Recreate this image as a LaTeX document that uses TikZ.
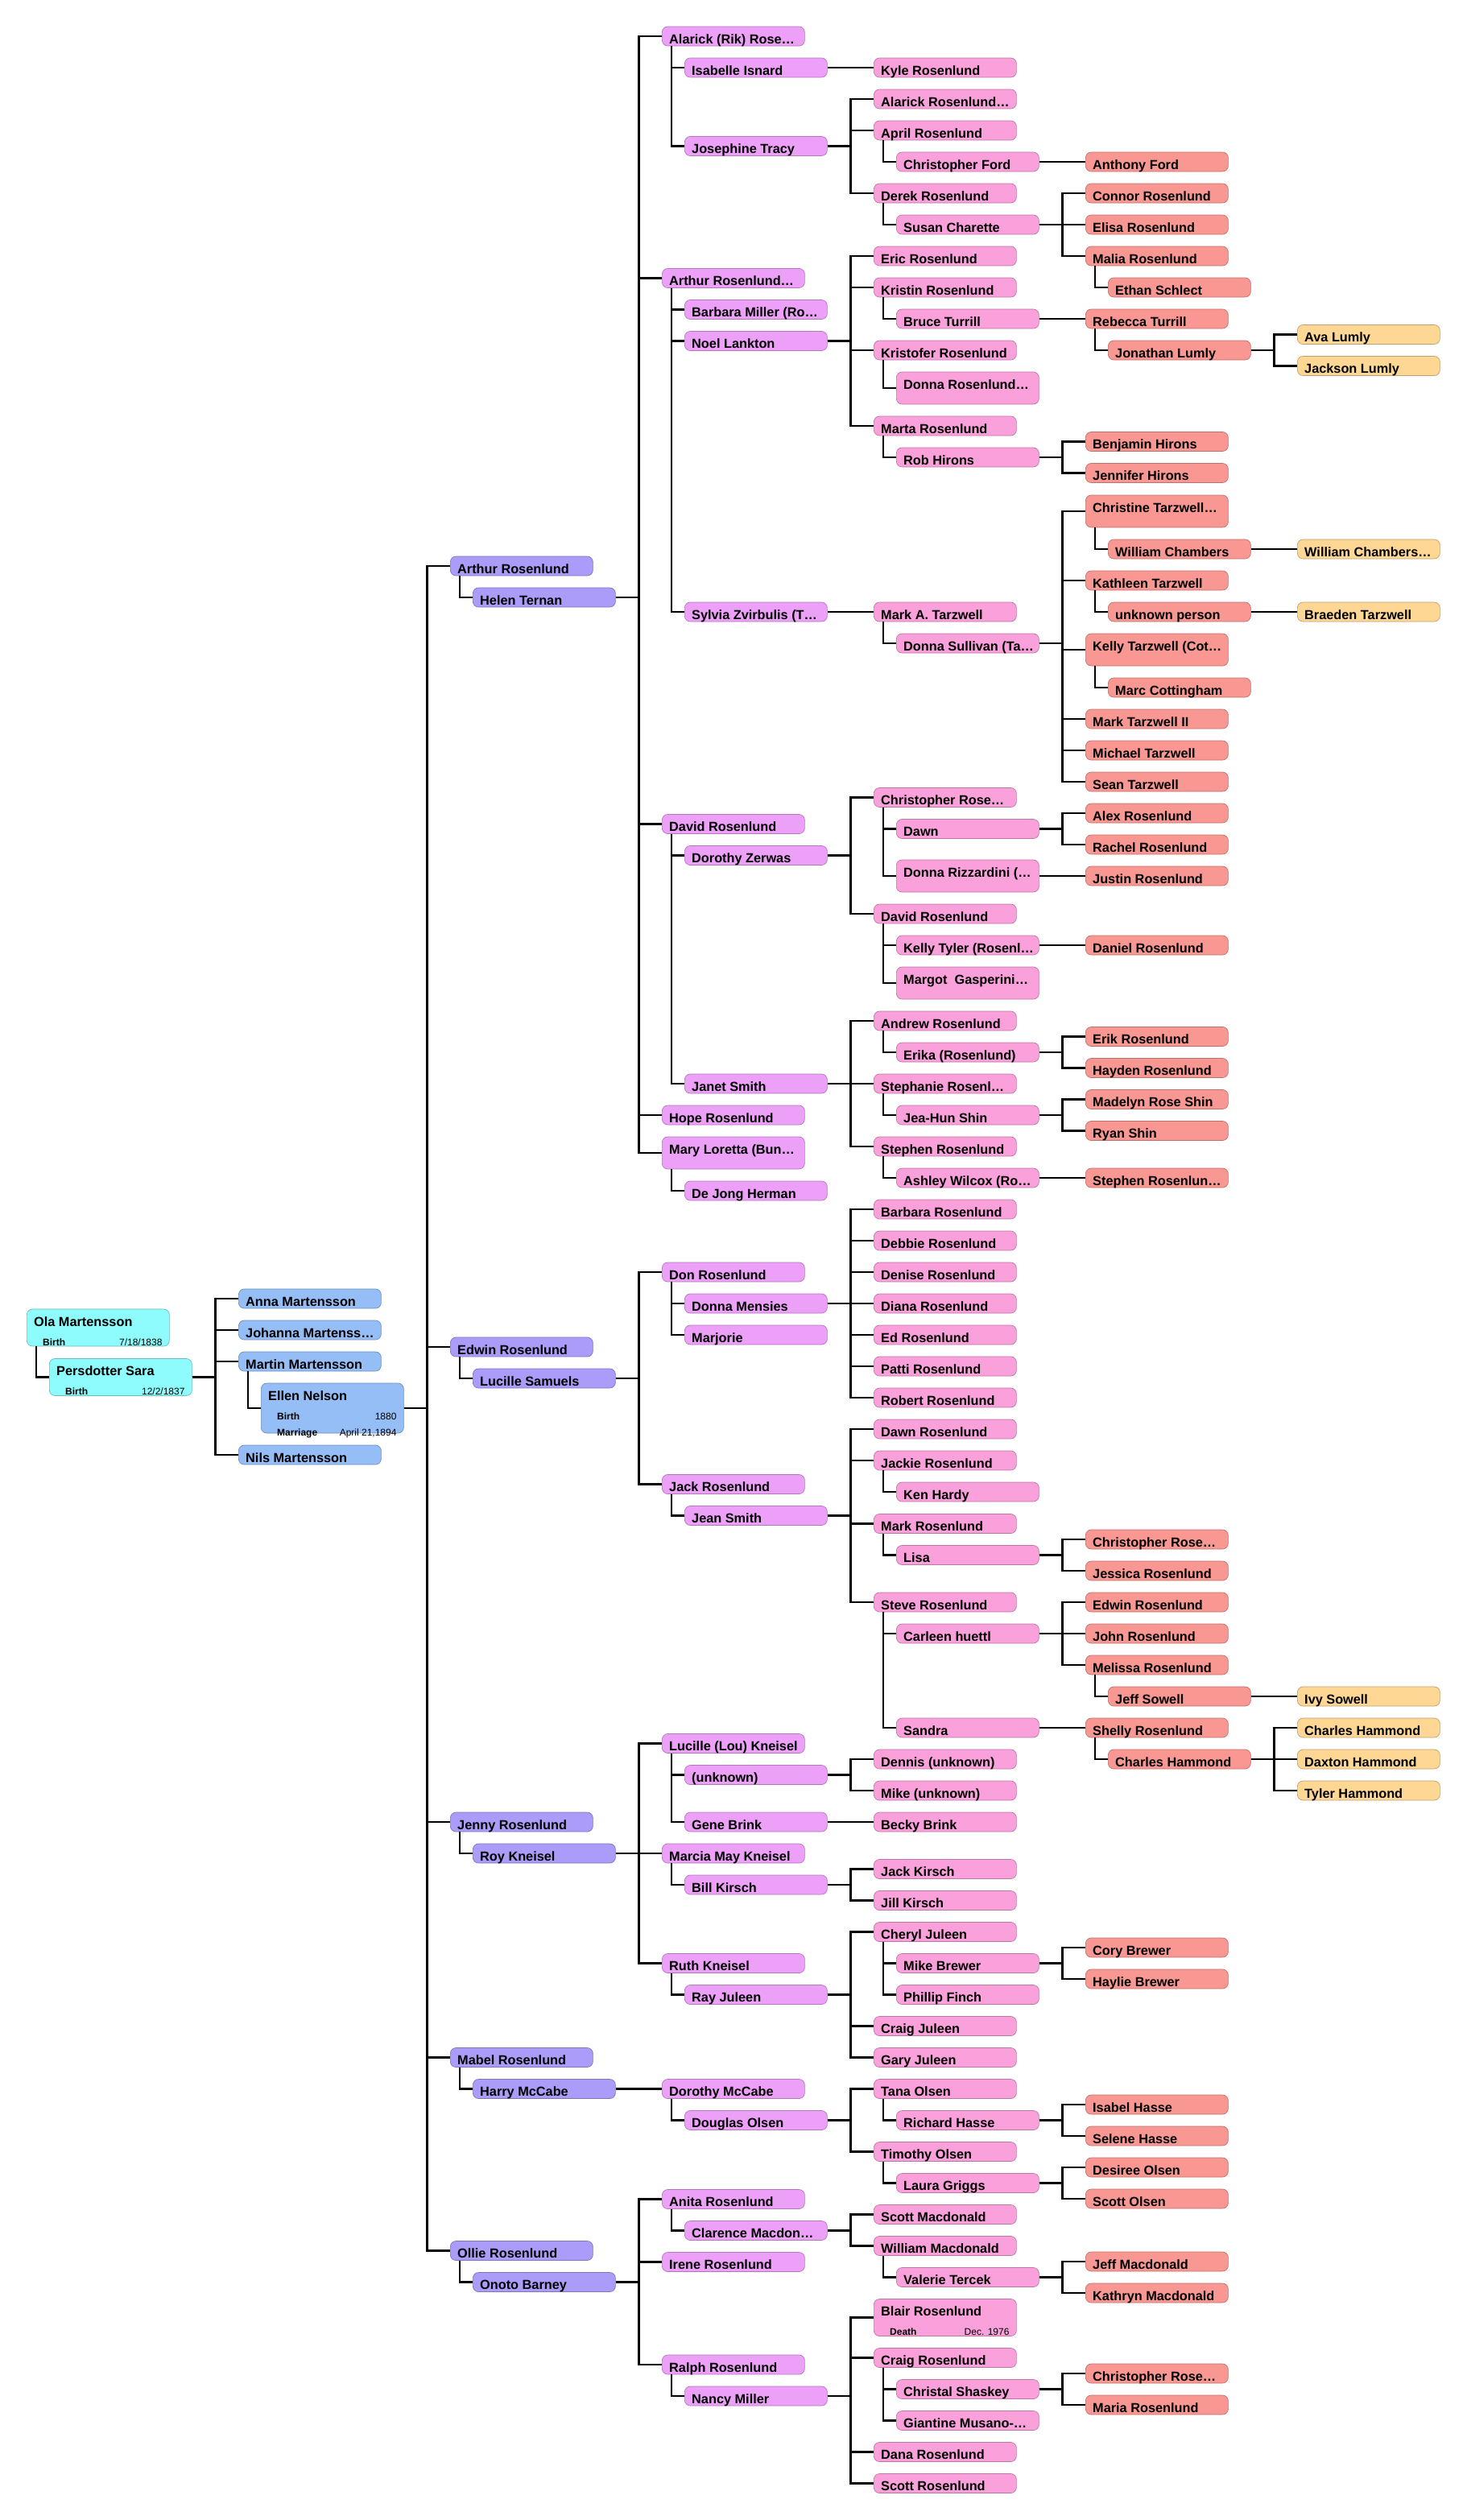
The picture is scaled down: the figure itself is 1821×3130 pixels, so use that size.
\documentclass[tikz,border=0pt]{standalone}
\usepackage{fontspec}
\setmainfont{Liberation Sans}
\definecolor{lv0}{HTML}{8EFBFD}
\definecolor{lv1}{HTML}{95BDF6}
\definecolor{lv2}{HTML}{AA9CF8}
\definecolor{lv3}{HTML}{EDA0F8}
\definecolor{lv4}{HTML}{FAA0DB}
\definecolor{lv5}{HTML}{F99892}
\definecolor{lv6}{HTML}{FED795}
\tikzset{
  box/.style={rounded corners=7pt,inner sep=0pt,anchor=west,minimum width=177pt,minimum height=24pt,line width=0.7pt},
  tall/.style={minimum height=40pt},
  event/.style={minimum height=46pt},
  bigevent/.style={minimum height=62pt},
  nm/.style={anchor=base west,inner sep=0pt,font=\bfseries\fontsize{16.3}{18}\selectfont},
  evl/.style={anchor=base west,inner sep=0pt,font=\bfseries\fontsize{12}{14}\selectfont},
  evd/.style={anchor=base east,inner sep=0pt,font=\fontsize{12}{14}\selectfont},
  link/.style={line width=2.6pt}
}
\newcommand\pb[5][]{\node[box,fill=lv#2,draw=lv#2!75!black,#1] (#3) at ({33+263*#2},#4) {} ; \node[nm] at ([shift={(9,21.5)}]#3.north west) {#5} ;}
\newcommand\ps[5][]{\node[box,fill=lv#2,draw=lv#2!75!black,#1] (#3) at ({61+263*#2},#4) {} ; \node[nm] at ([shift={(9,21.5)}]#3.north west) {#5} ;}
\newcommand\ev[4]{\node[evl] at ([shift={(20,#2)}]#1.north west) {#3} ; \node[evd] at ([shift={(-9,#2)}]#1.north east) {#4} ;}
\newcommand\wed[2]{\draw[link] ([xshift=12pt]#1.south west) |- (#2.west) ;}
\newcommand\kids[2]{\foreach \k in {#2} \draw[link] (#1.east) -- ++(28.5,0) |- (\k.west) ;}
\begin{document}
\begin{tikzpicture}[x=1pt,y=-1pt,line join=miter]
	\fill[white] (0,0) rectangle (1821,3130) ;
	\useasboundingbox (0,0) rectangle (1821,3130) ;
	\pb[event]{0}{ola}{1649}{Ola Martensson} \ev{ola}{46}{Birth}{7/18/1838}
	\ps[event]{0}{sara}{1710.5}{Persdotter Sara} \ev{sara}{45.5}{Birth}{12/2/1837}
	\pb{1}{anna}{1613}{Anna Martensson}
	\pb{1}{joha}{1652}{Johanna Martenss…}
	\pb{1}{mart}{1691}{Martin Martensson}
	\ps[bigevent]{1}{elle}{1749}{Ellen Nelson} \ev{elle}{46}{Birth}{1880} \ev{elle}{66}{Marriage}{April 21,1894}
	\pb{1}{nils}{1807}{Nils Martensson}
	\pb{2}{arth}{703}{Arthur Rosenlund}
	\ps{2}{hele}{742}{Helen Ternan}
	\pb{2}{edwi}{1673}{Edwin Rosenlund}
	\ps{2}{luci}{1712}{Lucille Samuels}
	\pb{2}{jenr}{2263}{Jenny Rosenlund}
	\ps{2}{roy}{2302}{Roy Kneisel}
	\pb{2}{mabe}{2555.5}{Mabel Rosenlund}
	\ps{2}{harr}{2594.5}{Harry McCabe}
	\pb{2}{olli}{2795.5}{Ollie Rosenlund}
	\ps{2}{onot}{2834.5}{Onoto Barney}
	\pb{3}{rik}{45}{Alarick (Rik) Rose…}
	\ps{3}{isab}{84}{Isabelle Isnard}
	\ps{3}{jose}{181.5}{Josephine Tracy}
	\pb{3}{art3}{345.5}{Arthur Rosenlund…}
	\ps{3}{barb}{384.5}{Barbara Miller (Ro…}
	\ps{3}{noel}{423.5}{Noel Lankton}
	\ps{3}{sylv}{760}{Sylvia Zvirbulis (T…}
	\pb{3}{dav3}{1023.5}{David Rosenlund}
	\ps{3}{doro}{1062.5}{Dorothy Zerwas}
	\ps{3}{jane}{1346}{Janet Smith}
	\pb{3}{hope}{1385}{Hope Rosenlund}
	\pb[tall]{3}{mary}{1432}{Mary Loretta (Bun…}
	\ps{3}{dejo}{1479}{De Jong Herman}
	\pb{3}{don}{1580}{Don Rosenlund}
	\ps{3}{dmen}{1619}{Donna Mensies}
	\ps{3}{marj}{1658}{Marjorie}
	\pb{3}{jac3}{1843.5}{Jack Rosenlund}
	\ps{3}{jean}{1882.5}{Jean Smith}
	\pb{3}{lou}{2165.5}{Lucille (Lou) Kneisel}
	\ps{3}{unk3}{2204.5}{(unknown)}
	\ps{3}{gene}{2263}{Gene Brink}
	\pb{3}{mmk}{2302}{Marcia May Kneisel}
	\ps{3}{bill}{2341}{Bill Kirsch}
	\pb{3}{ruth}{2438.5}{Ruth Kneisel}
	\ps{3}{ray}{2477.5}{Ray Juleen}
	\pb{3}{dmcc}{2594.5}{Dorothy McCabe}
	\ps{3}{doug}{2633.5}{Douglas Olsen}
	\pb{3}{anit}{2731.5}{Anita Rosenlund}
	\ps{3}{clar}{2770.5}{Clarence Macdon…}
	\pb{3}{iren}{2809.5}{Irene Rosenlund}
	\pb{3}{ralp}{2937}{Ralph Rosenlund}
	\ps{3}{nanc}{2976}{Nancy Miller}
	\pb{4}{kyle}{84}{Kyle Rosenlund}
	\pb{4}{alar}{123}{Alarick Rosenlund…}
	\pb{4}{apri}{162}{April Rosenlund}
	\ps{4}{cfor}{201}{Christopher Ford}
	\pb{4}{dere}{240}{Derek Rosenlund}
	\ps{4}{susa}{279}{Susan Charette}
	\pb{4}{eric}{318}{Eric Rosenlund}
	\pb{4}{kris}{357}{Kristin Rosenlund}
	\ps{4}{bruc}{396}{Bruce Turrill}
	\pb{4}{krfe}{435}{Kristofer Rosenlund}
	\ps[tall]{4}{donr}{482}{Donna Rosenlund…}
	\pb{4}{mrta}{529}{Marta Rosenlund}
	\ps{4}{robh}{568}{Rob Hirons}
	\pb{4}{mata}{760}{Mark A. Tarzwell}
	\ps{4}{dsul}{799}{Donna Sullivan (Ta…}
	\pb{4}{chr4}{990.5}{Christopher Rose…}
	\ps{4}{dawn}{1029.5}{Dawn}
	\ps[tall]{4}{driz}{1088}{Donna Rizzardini (…}
	\pb{4}{dav4}{1135}{David Rosenlund}
	\ps{4}{kty}{1174}{Kelly Tyler (Rosenl…}
	\ps[tall]{4}{marg}{1221}{Margot~~Gasperini…}
	\pb{4}{andr}{1268}{Andrew Rosenlund}
	\ps{4}{erka}{1307}{Erika (Rosenlund)}
	\pb{4}{step}{1346}{Stephanie Rosenl…}
	\ps{4}{jeah}{1385}{Jea-Hun Shin}
	\pb{4}{sth4}{1424}{Stephen Rosenlund}
	\ps{4}{ashl}{1463}{Ashley Wilcox (Ro…}
	\pb{4}{bar4}{1502}{Barbara Rosenlund}
	\pb{4}{debb}{1541}{Debbie Rosenlund}
	\pb{4}{deni}{1580}{Denise Rosenlund}
	\pb{4}{dian}{1619}{Diana Rosenlund}
	\pb{4}{ed}{1658}{Ed Rosenlund}
	\pb{4}{patt}{1697}{Patti Rosenlund}
	\pb{4}{robe}{1736}{Robert Rosenlund}
	\pb{4}{dawr}{1775}{Dawn Rosenlund}
	\pb{4}{jaki}{1814}{Jackie Rosenlund}
	\ps{4}{kenh}{1853}{Ken Hardy}
	\pb{4}{mar4}{1892.5}{Mark Rosenlund}
	\ps{4}{lisa}{1931.5}{Lisa}
	\pb{4}{stev}{1990}{Steve Rosenlund}
	\ps{4}{carl}{2029}{Carleen huettl}
	\ps{4}{sand}{2146}{Sandra}
	\pb{4}{denn}{2185}{Dennis (unknown)}
	\pb{4}{mike}{2224}{Mike (unknown)}
	\pb{4}{beck}{2263}{Becky Brink}
	\pb{4}{jkir}{2321.5}{Jack Kirsch}
	\pb{4}{jill}{2360.5}{Jill Kirsch}
	\pb{4}{cher}{2399.5}{Cheryl Juleen}
	\ps{4}{mbre}{2438.5}{Mike Brewer}
	\ps{4}{phil}{2477.5}{Phillip Finch}
	\pb{4}{crju}{2516.5}{Craig Juleen}
	\pb{4}{gary}{2555.5}{Gary Juleen}
	\pb{4}{tana}{2594.5}{Tana Olsen}
	\ps{4}{rich}{2633.5}{Richard Hasse}
	\pb{4}{timo}{2672.5}{Timothy Olsen}
	\ps{4}{laur}{2711.5}{Laura Griggs}
	\pb{4}{scma}{2750.5}{Scott Macdonald}
	\pb{4}{wima}{2789.5}{William Macdonald}
	\ps{4}{vale}{2828.5}{Valerie Tercek}
	\pb[event]{4}{blai}{2878.5}{Blair Rosenlund} \ev{blai}{45}{Death}{Dec. 1976}
	\pb{4}{crro}{2928.5}{Craig Rosenlund}
	\ps{4}{chri}{2967.5}{Christal Shaskey}
	\ps{4}{gian}{3006.5}{Giantine Musano-…}
	\pb{4}{dana}{3045.5}{Dana Rosenlund}
	\pb{4}{scro}{3084.5}{Scott Rosenlund}
	\pb{5}{afor}{201}{Anthony Ford}
	\pb{5}{conn}{240}{Connor Rosenlund}
	\pb{5}{elis}{279}{Elisa Rosenlund}
	\pb{5}{mali}{318}{Malia Rosenlund}
	\ps{5}{etha}{357}{Ethan Schlect}
	\pb{5}{rebe}{396}{Rebecca Turrill}
	\ps{5}{jona}{435}{Jonathan Lumly}
	\pb{5}{benj}{548.5}{Benjamin Hirons}
	\pb{5}{jenf}{587.5}{Jennifer Hirons}
	\pb[tall]{5}{chrt}{635}{Christine Tarzwell…}
	\ps{5}{wcha}{682}{William Chambers}
	\pb{5}{kath}{721}{Kathleen Tarzwell}
	\ps{5}{unkp}{760}{unknown person}
	\pb[tall]{5}{kelt}{807}{Kelly Tarzwell (Cot…}
	\ps{5}{mcot}{854}{Marc Cottingham}
	\pb{5}{mti}{893}{Mark Tarzwell II}
	\pb{5}{mich}{932}{Michael Tarzwell}
	\pb{5}{sean}{971}{Sean Tarzwell}
	\pb{5}{alex}{1010}{Alex Rosenlund}
	\pb{5}{rach}{1049}{Rachel Rosenlund}
	\pb{5}{just}{1088}{Justin Rosenlund}
	\pb{5}{dani}{1174}{Daniel Rosenlund}
	\pb{5}{erk5}{1287.5}{Erik Rosenlund}
	\pb{5}{hayd}{1326.5}{Hayden Rosenlund}
	\pb{5}{made}{1365.5}{Madelyn Rose Shin}
	\pb{5}{ryan}{1404.5}{Ryan Shin}
	\pb{5}{sth5}{1463}{Stephen Rosenlun…}
	\pb{5}{chr5a}{1912}{Christopher Rose…}
	\pb{5}{jess}{1951}{Jessica Rosenlund}
	\pb{5}{edw5}{1990}{Edwin Rosenlund}
	\pb{5}{john}{2029}{John Rosenlund}
	\pb{5}{meli}{2068}{Melissa Rosenlund}
	\ps{5}{jeff}{2107}{Jeff Sowell}
	\pb{5}{shel}{2146}{Shelly Rosenlund}
	\ps{5}{cha5}{2185}{Charles Hammond}
	\pb{5}{cory}{2419}{Cory Brewer}
	\pb{5}{hayl}{2458}{Haylie Brewer}
	\pb{5}{isah}{2614}{Isabel Hasse}
	\pb{5}{sele}{2653}{Selene Hasse}
	\pb{5}{desi}{2692}{Desiree Olsen}
	\pb{5}{scol}{2731}{Scott Olsen}
	\pb{5}{jema}{2809}{Jeff Macdonald}
	\pb{5}{kama}{2848}{Kathryn Macdonald}
	\pb{5}{chr5b}{2948}{Christopher Rose…}
	\pb{5}{mari}{2987}{Maria Rosenlund}
	\pb{6}{ava}{415.5}{Ava Lumly}
	\pb{6}{jckl}{454.5}{Jackson Lumly}
	\pb{6}{wch6}{682}{William Chambers…}
	\pb{6}{brae}{760}{Braeden Tarzwell}
	\pb{6}{ivy}{2107}{Ivy Sowell}
	\pb{6}{cha6}{2146}{Charles Hammond}
	\pb{6}{daxt}{2185}{Daxton Hammond}
	\pb{6}{tyle}{2224}{Tyler Hammond}
	\wed{ola}{sara} \kids{sara}{anna,joha,mart,nils}
	\wed{mart}{elle} \kids{elle}{arth,edwi,jenr,mabe,olli}
	\wed{arth}{hele} \kids{hele}{rik,art3,dav3,hope,mary}
	\wed{rik}{isab} \wed{rik}{jose} \kids{isab}{kyle} \kids{jose}{alar,apri,dere}
	\wed{apri}{cfor} \kids{cfor}{afor}
	\wed{dere}{susa} \kids{susa}{conn,elis,mali} \wed{mali}{etha}
	\wed{art3}{barb} \wed{art3}{noel} \wed{art3}{sylv}
	\kids{noel}{eric,kris,krfe,mrta}
	\wed{kris}{bruc} \kids{bruc}{rebe} \wed{rebe}{jona} \kids{jona}{ava,jckl}
	\wed{krfe}{donr}
	\wed{mrta}{robh} \kids{robh}{benj,jenf}
	\kids{sylv}{mata} \wed{mata}{dsul} \kids{dsul}{chrt,kath,kelt,mti,mich,sean}
	\wed{chrt}{wcha} \kids{wcha}{wch6}
	\wed{kath}{unkp} \kids{unkp}{brae}
	\wed{kelt}{mcot}
	\wed{dav3}{doro} \wed{dav3}{jane} \kids{doro}{chr4,dav4}
	\wed{chr4}{dawn} \wed{chr4}{driz} \kids{dawn}{alex,rach} \kids{driz}{just}
	\wed{dav4}{kty} \wed{dav4}{marg} \kids{kty}{dani}
	\kids{jane}{andr,step,sth4}
	\wed{andr}{erka} \kids{erka}{erk5,hayd}
	\wed{step}{jeah} \kids{jeah}{made,ryan}
	\wed{sth4}{ashl} \kids{ashl}{sth5}
	\wed{mary}{dejo}
	\wed{edwi}{luci} \kids{luci}{don,jac3}
	\wed{don}{dmen} \wed{don}{marj} \kids{dmen}{bar4,debb,deni,dian,ed,patt,robe}
	\wed{jac3}{jean} \kids{jean}{dawr,jaki,mar4,stev}
	\wed{jaki}{kenh}
	\wed{mar4}{lisa} \kids{lisa}{chr5a,jess}
	\wed{stev}{carl} \wed{stev}{sand} \kids{carl}{edw5,john,meli}
	\wed{meli}{jeff} \kids{jeff}{ivy}
	\kids{sand}{shel} \wed{shel}{cha5} \kids{cha5}{cha6,daxt,tyle}
	\wed{jenr}{roy} \kids{roy}{lou,mmk,ruth}
	\wed{lou}{unk3} \wed{lou}{gene} \kids{unk3}{denn,mike} \kids{gene}{beck}
	\wed{mmk}{bill} \kids{bill}{jkir,jill}
	\wed{ruth}{ray} \kids{ray}{cher,crju,gary}
	\wed{cher}{mbre} \wed{cher}{phil} \kids{mbre}{cory,hayl}
	\wed{mabe}{harr} \kids{harr}{dmcc}
	\wed{dmcc}{doug} \kids{doug}{tana,timo}
	\wed{tana}{rich} \kids{rich}{isah,sele}
	\wed{timo}{laur} \kids{laur}{desi,scol}
	\wed{olli}{onot} \kids{onot}{anit,iren,ralp}
	\wed{anit}{clar} \kids{clar}{scma,wima}
	\wed{wima}{vale} \kids{vale}{jema,kama}
	\wed{ralp}{nanc} \kids{nanc}{blai,crro,dana,scro}
	\wed{crro}{chri} \wed{crro}{gian} \kids{chri}{chr5b,mari}
\end{tikzpicture}
\end{document}
